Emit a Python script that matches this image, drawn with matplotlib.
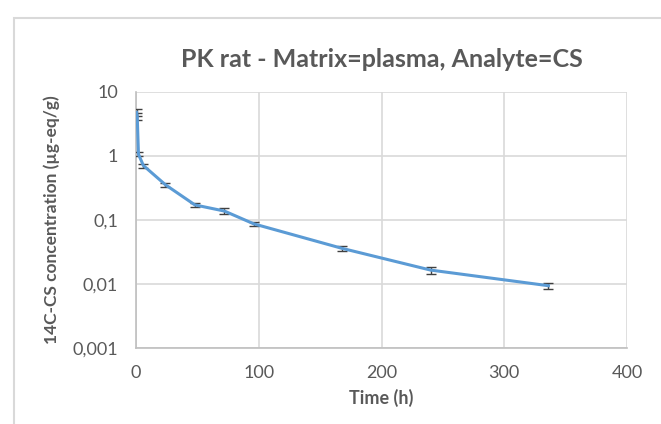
import matplotlib
matplotlib.use("Agg")
import matplotlib.pyplot as plt
import matplotlib.ticker as mticker
from matplotlib.patches import Rectangle

plt.rcParams['font.family'] = ['Lato', 'DejaVu Sans']

# sampling times (h), mean concentration and SD (ug-eq/g)
time_h = [0.5, 1, 2, 6, 24, 48, 72, 96, 168, 240, 336]
conc = [4.8, 4.2, 1.07, 0.71, 0.355, 0.172, 0.138, 0.087, 0.036, 0.0165, 0.0094]
sd = [0.6, 0.5, 0.065, 0.05, 0.03, 0.01, 0.016, 0.007, 0.003, 0.002, 0.0009]

y_ticks = [0.001, 0.01, 0.1, 1, 10]
y_labels = ["0,001", "0,01", "0,1", "1", "10"]
x_ticks = [0, 100, 200, 300, 400]

grey_txt = "#595959"
grid_col = "#D9D9D9"

fig = plt.figure(figsize=(6.61, 4.24), dpi=100)
ax = fig.add_axes([136 / 661, 1 - 348 / 424, (627 - 136) / 661, (348 - 92) / 424])

# chart-area border like the Excel frame
fig.patches.append(Rectangle((14 / 661, -0.05), 1.1, 1 - 18 / 424 + 0.05,
                             transform=fig.transFigure, fill=False,
                             edgecolor=grid_col, linewidth=1.5))

ax.errorbar(time_h, conc, yerr=sd, color="#5B9BD5", linewidth=2.2,
            ecolor="#404040", elinewidth=1.0, capsize=3.5, capthick=1.0, zorder=3)

ax.set_yscale("log")
ax.set_ylim(0.001, 10)
ax.set_xlim(0, 400)
ax.set_yticks(y_ticks)
ax.set_yticklabels(y_labels)
ax.yaxis.set_minor_locator(mticker.NullLocator())
ax.set_xticks(x_ticks)

ax.grid(True, color=grid_col, linewidth=1.2)
ax.set_axisbelow(True)
for side in ["top", "right"]:
    ax.spines[side].set_visible(False)
for side in ["left", "bottom"]:
    ax.spines[side].set_color("#BFBFBF")
    ax.spines[side].set_linewidth(1.2)

ax.tick_params(axis="y", length=0, labelsize=13, colors=grey_txt, pad=13)
ax.tick_params(axis="x", length=0, labelsize=13, colors=grey_txt, pad=12)

ax.set_title("PK rat - Matrix=plasma, Analyte=CS", fontsize=18, fontweight="bold",
             color=grey_txt, pad=18)
ax.set_xlabel("Time (h)", fontsize=13, fontweight="bold", color=grey_txt, labelpad=6)
ax.set_ylabel("14C-CS concentration (\u00b5g-eq/g)", fontsize=12.5, fontweight="bold",
              color=grey_txt, labelpad=9)

fig.savefig("out.png", dpi=100)
